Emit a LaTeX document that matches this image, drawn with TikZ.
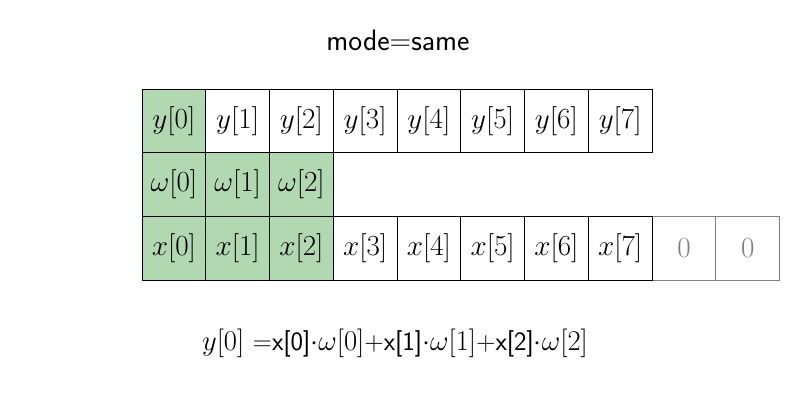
\documentclass[tikz,border=0pt]{standalone}
\usetikzlibrary{positioning}
\pgfdeclarelayer{background}
\pgfsetlayers{background,main}
\definecolor{cellgreen}{RGB}{178,216,178}
\tikzset{
	cell/.style={draw, line width=0.6pt, minimum width=1.594cm, minimum height=1.594cm, inner sep=0pt, outer sep=0pt, font=\fontsize{20}{24}\selectfont},
	hit/.style={cell, fill=cellgreen},
	pad/.style={cell, draw=gray, text=gray},
}
\begin{document}
\begin{tikzpicture}[node distance=0pt]
	\useasboundingbox (0,0) rectangle (20,10);

	\node [hit, anchor=north west] (y0) at (3.55,7.775) {\(y[0]\)};
	\node [cell, right=of y0] (y1) {\(y[1]\)};
	\node [cell, right=of y1] (y2) {\(y[2]\)};
	\node [cell, right=of y2] (y3) {\(y[3]\)};
	\node [cell, right=of y3] (y4) {\(y[4]\)};
	\node [cell, right=of y4] (y5) {\(y[5]\)};
	\node [cell, right=of y5] (y6) {\(y[6]\)};
	\node [cell, right=of y6] (y7) {\(y[7]\)};

	\node [hit, below=of y0] (w0) {\(\omega[0]\)};
	\node [hit, right=of w0] (w1) {\(\omega[1]\)};
	\node [hit, right=of w1] (w2) {\(\omega[2]\)};

	\node [hit, below=of w0] (x0) {\(x[0]\)};
	\node [hit, right=of x0] (x1) {\(x[1]\)};
	\node [hit, right=of x1] (x2) {\(x[2]\)};
	\node [cell, right=of x2] (x3) {\(x[3]\)};
	\node [cell, right=of x3] (x4) {\(x[4]\)};
	\node [cell, right=of x4] (x5) {\(x[5]\)};
	\node [cell, right=of x5] (x6) {\(x[6]\)};
	\node [cell, right=of x6] (x7) {\(x[7]\)};
	\begin{pgfonlayer}{background}
		\node [pad, right=of x7] (pad0) {\(0\)};
		\node [pad, right=of pad0] (pad1) {\(0\)};
	\end{pgfonlayer}

	\node [font=\fontsize{21}{25}\selectfont\sffamily] (mode) at (9.95,9.0) {mode=same};
	\node [font=\fontsize{16}{19}\selectfont\sffamily, scale=1.18] (sum) at (9.875,1.425)
		{\(y[0]\) =x[0]\(\cdot\omega[0]\)+x[1]\(\cdot\omega[1]\)+x[2]\(\cdot\omega[2]\)};

\end{tikzpicture}
\end{document}
